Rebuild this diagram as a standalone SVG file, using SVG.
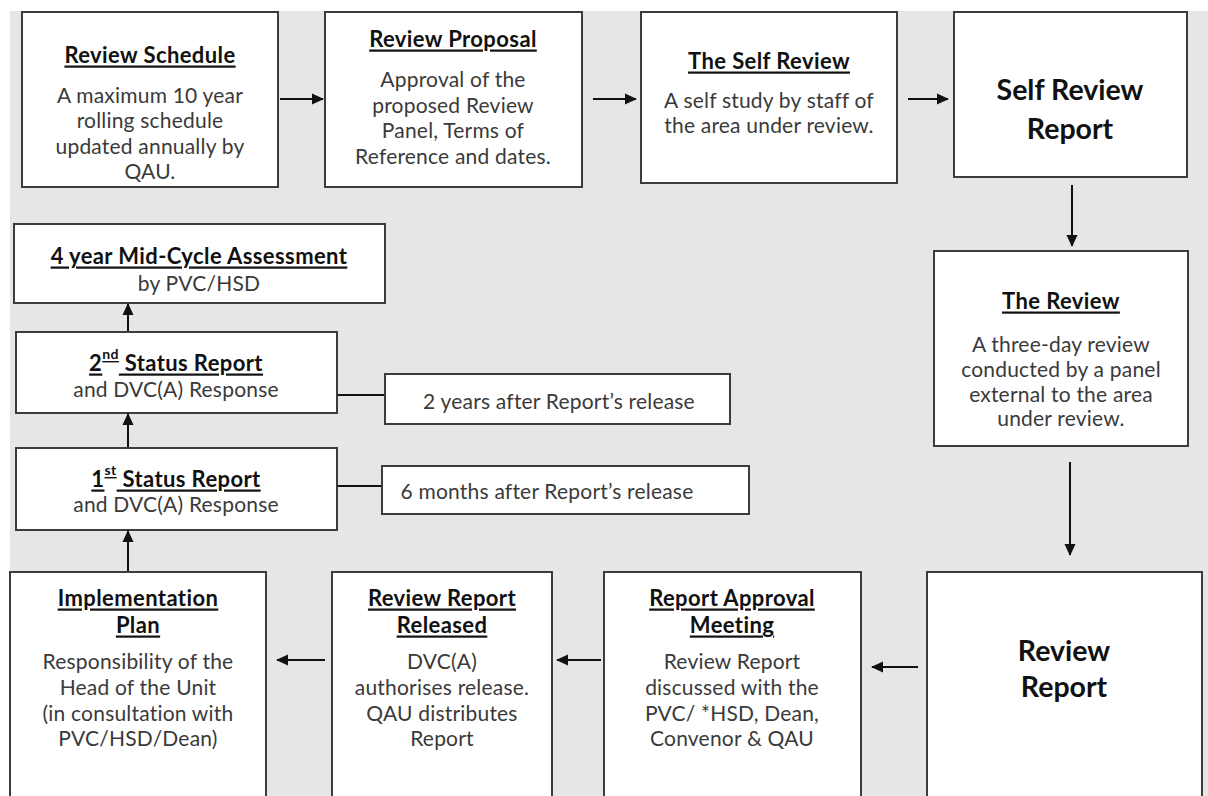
<svg xmlns="http://www.w3.org/2000/svg" width="1208" height="796" viewBox="0 0 1208 796">
<defs>
<marker id="ah" markerWidth="12" markerHeight="12" refX="11" refY="6" orient="auto" markerUnits="userSpaceOnUse">
<path d="M0,0.5 L12,6 L0,11.5 Z" fill="#111"/>
</marker>
<style>
.box{fill:#fff;stroke:#3c3c3c;stroke-width:2}
.t{font-family:Lato,"Liberation Sans",sans-serif;font-weight:bold;font-size:22px;letter-spacing:0.4px;fill:#111;text-anchor:middle;text-decoration:underline;dominant-baseline:central}
.b{font-family:Lato,"Liberation Sans",sans-serif;font-size:21px;letter-spacing:0.2px;fill:#3a3a3a;text-anchor:middle;dominant-baseline:central}
.big{font-family:Lato,"Liberation Sans",sans-serif;font-weight:bold;font-size:28.5px;fill:#111;text-anchor:middle;dominant-baseline:central}
.c{stroke:#111;stroke-width:2;fill:none}
.ca{stroke:#111;stroke-width:2;fill:none;marker-end:url(#ah)}
</style>
</defs>
<rect x="0" y="0" width="1208" height="796" fill="#fff"/>
<rect x="10" y="11" width="1198" height="785" fill="#e6e6e6"/>

<g id="connectors">
<line class="ca" x1="280" y1="99" x2="323" y2="99"/>
<line class="ca" x1="593" y1="99" x2="636" y2="99"/>
<line class="ca" x1="908" y1="99" x2="948" y2="99"/>
<line class="ca" x1="1072" y1="185" x2="1072" y2="246"/>
<line class="ca" x1="1070" y1="462" x2="1070" y2="555"/>
<line class="ca" x1="918" y1="667" x2="872" y2="667"/>
<line class="ca" x1="601" y1="660" x2="557" y2="660"/>
<line class="ca" x1="325" y1="660" x2="277" y2="660"/>
<line class="ca" x1="128" y1="572" x2="128" y2="531"/>
<line class="ca" x1="128" y1="448" x2="128" y2="414"/>
<line class="ca" x1="128" y1="332" x2="128" y2="304"/>
<line class="c" x1="337" y1="395" x2="385" y2="395"/>
<line class="c" x1="337" y1="486" x2="382" y2="486"/>
</g>

<g id="review-schedule">
<rect class="box" x="22" y="12" width="256" height="175"/>
<text class="t" x="150" y="54">Review Schedule</text>
<text class="b" x="150" y="94">A maximum 10 year</text>
<text class="b" x="150" y="119">rolling schedule</text>
<text class="b" x="150" y="145">updated annually by</text>
<text class="b" x="150" y="170">QAU.</text>
</g>

<g id="review-proposal">
<rect class="box" x="325" y="12" width="257" height="175"/>
<text class="t" x="453" y="38">Review Proposal</text>
<text class="b" x="453" y="78">Approval of the</text>
<text class="b" x="453" y="104">proposed Review</text>
<text class="b" x="453" y="129">Panel, Terms of</text>
<text class="b" x="453" y="155">Reference and dates.</text>
</g>

<g id="self-review">
<rect class="box" x="641" y="12" width="256" height="171"/>
<text class="t" x="769" y="60">The Self Review</text>
<text class="b" x="769" y="99">A self study by staff of</text>
<text class="b" x="769" y="124">the area under review.</text>
</g>

<g id="self-review-report">
<rect class="box" x="954" y="12" width="233" height="165"/>
<text class="big" x="1070" y="89">Self Review</text>
<text class="big" x="1070" y="128">Report</text>
</g>

<g id="the-review">
<rect class="box" x="934" y="251" width="254" height="195"/>
<text class="t" x="1061" y="300">The Review</text>
<text class="b" x="1061" y="343">A three-day review</text>
<text class="b" x="1061" y="368">conducted by a panel</text>
<text class="b" x="1061" y="393">external to the area</text>
<text class="b" x="1061" y="417">under review.</text>
</g>

<g id="review-report">
<rect class="box" x="927" y="572" width="275" height="240"/>
<text class="big" x="1064" y="650">Review</text>
<text class="big" x="1064" y="686">Report</text>
</g>

<g id="report-approval-meeting">
<rect class="box" x="604" y="572" width="257" height="240"/>
<text class="t" x="732" y="597">Report Approval</text>
<text class="t" x="732" y="624">Meeting</text>
<text class="b" x="732" y="660">Review Report</text>
<text class="b" x="732" y="686">discussed with the</text>
<text class="b" x="732" y="712">PVC/ *HSD, Dean,</text>
<text class="b" x="732" y="737">Convenor &amp; QAU</text>
</g>

<g id="review-report-released">
<rect class="box" x="332" y="572" width="220" height="240"/>
<text class="t" x="442" y="597">Review Report</text>
<text class="t" x="442" y="624">Released</text>
<text class="b" x="442" y="660">DVC(A)</text>
<text class="b" x="442" y="686">authorises release.</text>
<text class="b" x="442" y="712">QAU distributes</text>
<text class="b" x="442" y="737">Report</text>
</g>

<g id="implementation-plan">
<rect class="box" x="10" y="572" width="256" height="240"/>
<text class="t" x="138" y="597">Implementation</text>
<text class="t" x="138" y="624">Plan</text>
<text class="b" x="138" y="660">Responsibility of the</text>
<text class="b" x="138" y="686">Head of the Unit</text>
<text class="b" x="138" y="712">(in consultation with</text>
<text class="b" x="138" y="737">PVC/HSD/Dean)</text>
</g>

<g id="mid-cycle">
<rect class="box" x="14" y="224" width="371" height="79"/>
<text class="t" x="199" y="255">4 year Mid-Cycle Assessment</text>
<text class="b" x="199" y="282">by PVC/HSD</text>
</g>

<g id="status-2">
<rect class="box" x="16" y="332" width="321" height="81"/>
<text class="t" x="176" y="362">2<tspan font-size="14" baseline-shift="super">nd</tspan> Status Report</text>
<text class="b" x="176" y="388">and DVC(A) Response</text>
</g>

<g id="status-1">
<rect class="box" x="16" y="448" width="321" height="82"/>
<text class="t" x="176" y="478">1<tspan font-size="14" baseline-shift="super">st</tspan> Status Report</text>
<text class="b" x="176" y="503">and DVC(A) Response</text>
</g>

<g id="two-years">
<rect class="box" x="385" y="374" width="345" height="50"/>
<text class="b" x="559" y="400">2 years after Report’s release</text>
</g>

<g id="six-months">
<rect class="box" x="382" y="466" width="367" height="48"/>
<text class="b" x="547" y="490">6 months after Report’s release</text>
</g>
</svg>
